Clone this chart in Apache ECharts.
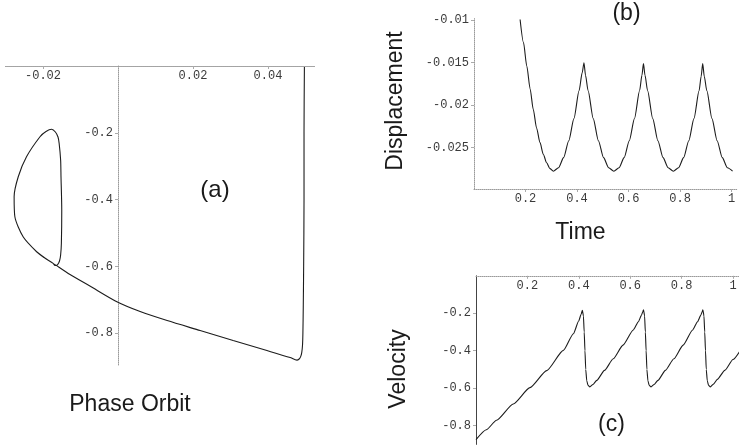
<!DOCTYPE html>
<html><head><meta charset="utf-8">
<script src="https://cdn.jsdelivr.net/npm/echarts@6/dist/echarts.min.js"></script>
<style>html,body{margin:0;padding:0;background:#fff}#c{width:739px;height:446px}</style>
</head><body><div id="c"></div>
<script>
// ---- (a) Phase orbit: displacement (x) vs velocity (y) ----
const orbitX = [0.0497,0.0496,0.0496,0.0495,0.0494,0.0493,0.0492,0.0490,0.0487,0.0483,0.0477,0.0459,0.0397,0.0307,0.0219,0.0131,0.0059,-0.0003,-0.0075,-0.0128,-0.0173,-0.0195,-0.0217,-0.0253,-0.0275,-0.0277,-0.0266,-0.0244,-0.0208,-0.0192,-0.0177,-0.0167,-0.0160,-0.0157,-0.0153,-0.0152,-0.0150,-0.0151,-0.0153,-0.0156,-0.0161,-0.0168,-0.0173,-0.0195,-0.0217];
const orbitY = [-0.003,-0.200,-0.400,-0.600,-0.720,-0.800,-0.835,-0.857,-0.870,-0.877,-0.8805,-0.8728,-0.8518,-0.8219,-0.7919,-0.7620,-0.7350,-0.7057,-0.6587,-0.6243,-0.5907,-0.5749,-0.5560,-0.5111,-0.4512,-0.3913,-0.3314,-0.2716,-0.2117,-0.1960,-0.1895,-0.1976,-0.2126,-0.2314,-0.2814,-0.3314,-0.4311,-0.5308,-0.5659,-0.5838,-0.5943,-0.5973,-0.5907,-0.5749,-0.5560];

// ---- (b) Displacement vs time ----
const dispTime = [0.179,0.192,0.205,0.218,0.230,0.243,0.256,0.269,0.282,0.295,0.308,
  0.328,0.348,0.368,0.388,0.408,0.420,0.427,
  0.433,0.443,0.463,0.483,0.503,0.523,0.543,
  0.563,0.583,0.603,0.623,0.643,0.652,0.658,
  0.664,0.674,0.694,0.714,0.734,0.754,0.774,
  0.794,0.814,0.834,0.854,0.874,0.882,0.888,
  0.894,0.904,0.924,0.944,0.964,0.984,1.004];
const dispValues = [-0.0099,-0.0126,-0.0154,-0.0181,-0.0205,-0.0227,-0.0244,-0.0258,-0.0268,-0.0275,-0.0278,
  -0.0274,-0.0262,-0.0242,-0.0216,-0.0183,-0.0162,-0.0150,
  -0.0165,-0.0183,-0.0216,-0.0242,-0.0262,-0.0274,-0.0278,
  -0.0274,-0.0262,-0.0242,-0.0216,-0.0183,-0.0165,-0.0151,
  -0.0165,-0.0183,-0.0216,-0.0242,-0.0262,-0.0274,-0.0278,
  -0.0274,-0.0262,-0.0242,-0.0216,-0.0183,-0.0166,-0.0151,
  -0.0166,-0.0183,-0.0216,-0.0242,-0.0262,-0.0274,-0.0278];

// ---- (c) Velocity vs time ----
const velTime = [0.000,0.040,0.080,0.145,0.210,0.275,0.340,0.379,0.400,0.409,0.414,
  0.418,0.421,0.424,0.427,0.431,0.436,0.443,
  0.455,0.470,0.500,0.534,0.572,0.612,0.632,0.644,0.649,0.652,
  0.656,0.659,0.662,0.665,0.669,0.674,0.681,
  0.693,0.708,0.737,0.770,0.806,0.843,0.862,0.875,0.880,0.883,
  0.887,0.890,0.893,0.896,0.900,0.905,0.912,
  0.924,0.939,0.968,1.000,1.030];
const velValues = [-0.875,-0.822,-0.771,-0.684,-0.597,-0.506,-0.398,-0.309,-0.240,-0.205,-0.184,
  -0.215,-0.300,-0.400,-0.500,-0.560,-0.585,-0.593,
  -0.580,-0.558,-0.505,-0.443,-0.370,-0.289,-0.245,-0.210,-0.192,-0.181,
  -0.215,-0.300,-0.400,-0.500,-0.560,-0.585,-0.593,
  -0.580,-0.558,-0.505,-0.443,-0.370,-0.289,-0.245,-0.210,-0.192,-0.181,
  -0.215,-0.300,-0.400,-0.500,-0.560,-0.585,-0.593,
  -0.578,-0.553,-0.505,-0.447,-0.395];

// ---- tick labels ----
const phaseXTicks = [-0.02, 0.02, 0.04];
const phaseYTicks = [-0.8, -0.6, -0.4, -0.2];
const timeTicks = [0.2, 0.4, 0.6, 0.8, 1];
const dispYTicks = [-0.025, -0.02, -0.015, -0.01];
const velYTicks = [-0.8, -0.6, -0.4, -0.2];

const chart = echarts.init(document.getElementById('c'), null, {renderer: 'canvas'});
const zip = (a, b) => a.map((v, i) => [v, b[i]]);
const tickFont = {fontFamily: 'Liberation Mono', fontSize: 12, color: '#3a3a3a'};
function mkAxis(grid, min, max, ticks, margin, extra) {
  extra = extra || {};
  return Object.assign({
    type: 'value', gridIndex: grid, min: min, max: max,
    axisLine: {show: true, onZero: false, lineStyle: {color: extra.dark ? '#444' : '#9a9a9a', type: extra.dark ? 'solid' : 'dotted', width: 1}},
    axisTick: {show: true, inside: !!extra.inside, customValues: ticks, length: 3, lineStyle: {color: '#aaa'}},
    axisLabel: Object.assign({show: true, inside: !!extra.inside, customValues: ticks, margin: margin}, tickFont),
    splitLine: {show: false}
  }, extra.pos ? {position: extra.pos} : {}, extra.offset ? {offset: extra.offset} : {});
}
const lineStyle = {color: '#1c1c1c', width: 1.1};
const titleFont = {fontFamily: 'Liberation Sans', fontSize: 23, fill: '#1a1a1a', align: 'center', verticalAlign: 'middle'};
function txt(text, x, y, rot, size) {
  return {type: 'text', x: x, y: y, rotation: rot || 0,
    style: Object.assign({}, titleFont, {text: text}, size ? {fontSize: size} : {})};
}

chart.setOption({
  animation: false,
  backgroundColor: '#fff',
  grid: [
    {left: 5.5, top: 66, width: 309.4, height: 299, outerBoundsMode: 'none'},
    {left: 474, top: 18.6, width: 262.7, height: 170.4, outerBoundsMode: 'none'},
    {left: 476, top: 275.8, width: 264.7, height: 168.6, outerBoundsMode: 'none'}
  ],
  xAxis: [
    mkAxis(0, -0.03, 0.0525, phaseXTicks, 4, {pos: 'top', inside: true}),
    mkAxis(1, 0, 1.02, timeTicks, 4),
    mkAxis(2, 0, 1.03, timeTicks, 4, {pos: 'top', inside: true})
  ],
  yAxis: [
    mkAxis(0, -0.895, 0, phaseYTicks, 5, {pos: 'left', offset: -112.5}),
    mkAxis(1, -0.0299, -0.0098, dispYTicks, 5),
    mkAxis(2, -0.9, 0, velYTicks, 5, {dark: true})
  ],
  series: [
    {type: 'line', xAxisIndex: 0, yAxisIndex: 0, data: zip(orbitX, orbitY), showSymbol: false, smooth: 0.25, lineStyle: lineStyle},
    {type: 'line', xAxisIndex: 1, yAxisIndex: 1, data: zip(dispTime, dispValues), showSymbol: false, smooth: 0.25, smoothMonotone: 'x', lineStyle: lineStyle},
    {type: 'line', xAxisIndex: 2, yAxisIndex: 2, data: zip(velTime, velValues), showSymbol: false, smooth: 0.2, smoothMonotone: 'x', lineStyle: lineStyle}
  ],
  graphic: [
    txt('Phase Orbit', 130, 404.5),
    txt('(a)', 215, 190, 0, 24),
    txt('(b)', 626.5, 13.5),
    txt('(c)', 611.5, 425),
    txt('Time', 580.5, 233),
    txt('Displacement', 396, 101, Math.PI / 2),
    txt('Velocity', 399, 369, Math.PI / 2)
  ]
});
</script></body></html>
